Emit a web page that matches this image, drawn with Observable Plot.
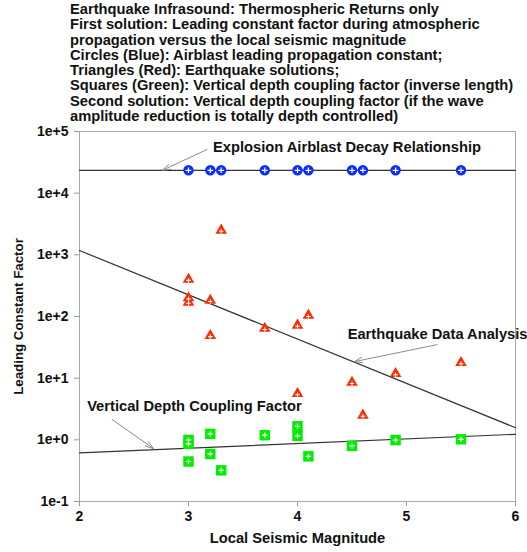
<!DOCTYPE html>
<html>
<head>
<meta charset="utf-8">
<script src="https://cdn.jsdelivr.net/npm/d3@7"></script>
<script src="https://cdn.jsdelivr.net/npm/@observablehq/plot@0.6"></script>
<style>
  body { margin: 0; background: #fff; }
  #title {
    height: 123px; box-sizing: border-box; padding: 2px 0 0 70px;
    font: bold 14.7px "Liberation Sans", Arial, sans-serif; line-height: 15.3px; color: #111;
    white-space: nowrap;
  }
</style>
</head>
<body>
<div id="title"></div>
<div id="chart"></div>
<script>
// Heading lines
const titleLines = [
  "Earthquake Infrasound: Thermospheric Returns only",
  "First solution: Leading constant factor during atmospheric",
  "propagation versus the local seismic magnitude",
  "Circles (Blue): Airblast leading propagation constant;",
  "Triangles (Red): Earthquake solutions;",
  "Squares (Green): Vertical depth coupling factor (inverse length)",
  "Second solution: Vertical depth coupling factor (if the wave",
  "amplitude reduction is totally depth controlled)"
];

// Airblast leading propagation constant (circles)
const airblastMag = [3.0, 3.2, 3.3, 3.7, 4.0, 4.1, 4.5, 4.6, 4.9, 5.5];
const airblastConst = [23500, 23500, 23500, 23500, 23500, 23500, 23500, 23500, 23500, 23500];

// Earthquake solutions (triangles)
const quakeMag = [3.0, 3.0, 3.0, 3.2, 3.2, 3.3, 3.7, 4.0, 4.0, 4.1, 4.5, 4.6, 4.9, 5.5];
const quakeConst = [400, 200, 170, 182, 49, 2500, 64, 72, 5.6, 104, 8.5, 2.5, 11.8, 17.8];

// Vertical depth coupling factor (squares)
const depthMag = [3.0, 3.0, 3.0, 3.2, 3.2, 3.3, 3.7, 4.0, 4.0, 4.1, 4.5, 4.9, 5.5];
const depthCoupling = [1.0, 0.86, 0.445, 1.25, 0.59, 0.32, 1.19, 1.66, 1.16, 0.54, 0.80, 0.99, 1.02];

// Fitted relationships, evaluated at the ends of the magnitude range
const fitMag = [2, 6];
const airblastFit = [23500, 23500];
const quakeFit = [1175, 1.57];
const depthFit = [0.615, 1.23];

// Axis ticks
const xTicks = [2, 3, 4, 5, 6];
const xTickLabels = ["2", "3", "4", "5", "6"];
const yTicks = [0.1, 1, 10, 100, 1000, 10000, 100000];
const yTickLabels = ["1e-1", "1e+0", "1e+1", "1e+2", "1e+3", "1e+4", "1e+5"];

// Annotations: label position and arrow (from -> to)
const notes = [
  {text: "Explosion Airblast Decay Relationship", x: 3.225, y: 55000, x1: 3.17, y1: 51000, x2: 2.76, y2: 23500},
  {text: "Earthquake Data Analysis", x: 4.46, y: 51, x1: 5.28, y1: 35, x2: 4.52, y2: 18.5},
  {text: "Vertical Depth Coupling Factor", x: 2.07, y: 3.5, x1: 2.30, y1: 2.13, x2: 2.68, y2: 0.72}
];

document.getElementById("title").innerHTML = titleLines.map(t => `<div>${t}</div>`).join("");

const rows = (xs, ys) => xs.map((m, i) => ({m, v: ys[i]}));
const airblast = rows(airblastMag, airblastConst);
const quakes = rows(quakeMag, quakeConst);
const depth = rows(depthMag, depthCoupling);

// thin cross drawn inside each marker
const cross = {
  draw(ctx, size) {
    const r = Math.sqrt(size) / 2;
    ctx.moveTo(-r, 0); ctx.lineTo(r, 0);
    ctx.moveTo(0, -r); ctx.lineTo(0, r);
  }
};

const font = '"Liberation Sans", Arial, sans-serif';
const fs = 14.7;

const chart = Plot.plot({
  width: 527,
  height: 429,
  marginLeft: 79,
  marginRight: 12,
  marginTop: 8,
  marginBottom: 51,
  style: {fontFamily: font, fontSize: fs + "px", fontWeight: "bold", background: "#fff", color: "#111", overflow: "visible"},
  x: {domain: [2, 6]},
  y: {type: "log", domain: [0.1, 100000]},
  marks: [
    Plot.frame({stroke: "#a8a8a8"}),
    Plot.axisY(yTicks, {tickFormat: d => yTickLabels[yTicks.indexOf(d)], tickSize: 5, tickPadding: 6, stroke: "#999", fill: "#111", label: null, fontSize: 14, fontWeight: "bold"}),
    Plot.axisX(xTicks, {tickFormat: d => xTickLabels[xTicks.indexOf(d)], tickSize: 5, tickPadding: 5, stroke: "#999", fill: "#111", label: null, fontSize: 14, fontWeight: "bold"}),
    Plot.text(["Leading Constant Factor"], {frameAnchor: "left", textAnchor: "middle", rotate: -90, dx: -61, fontSize: 13.3, fontWeight: "bold", fill: "#111"}),
    Plot.text(["Local Seismic Magnitude"], {frameAnchor: "bottom", dy: 41, fontSize: fs, fontWeight: "bold", fill: "#111"}),

    // fitted relationships
    Plot.line(rows(fitMag, airblastFit), {x: "m", y: "v", stroke: "#333", strokeWidth: 1.2}),
    Plot.line(rows(fitMag, quakeFit), {x: "m", y: "v", stroke: "#333", strokeWidth: 1.2}),
    Plot.line(rows(fitMag, depthFit), {x: "m", y: "v", stroke: "#333", strokeWidth: 1.2}),

    // annotation arrows and labels
    Plot.arrow(notes, {x1: "x1", y1: "y1", x2: "x2", y2: "y2", stroke: "#8c8c8c", strokeWidth: 1, headLength: 13, headAngle: 36}),
    Plot.text(notes, {x: "x", y: "y", text: "text", textAnchor: "start", fontSize: fs, fontWeight: "bold", fill: "#111"}),

    // airblast circles
    Plot.dot(airblast, {x: "m", y: "v", r: 5.2, fill: "#0a2cff", stroke: "none"}),
    Plot.dot(airblast, {x: "m", y: "v", r: 3.2, symbol: cross, stroke: "#fff", strokeWidth: 1.2, fill: "none"}),

    // earthquake triangles
    Plot.dot(quakes, {x: "m", y: "v", r: 4.3, symbol: "triangle", fill: "#ff2a00", stroke: "none"}),
    Plot.dot(quakes, {x: "m", y: "v", r: 2.6, symbol: cross, stroke: "#fff", strokeWidth: 1.1, fill: "none", dy: 1}),

    // depth coupling squares
    Plot.dot(depth, {x: "m", y: "v", r: 5.9, symbol: "square", fill: "#00ee00", stroke: "none"}),
    Plot.dot(depth, {x: "m", y: "v", r: 3.0, symbol: cross, stroke: "#fff", strokeWidth: 1.2, fill: "none"})
  ]
});
document.getElementById("chart").appendChild(chart);
</script>
</body>
</html>
